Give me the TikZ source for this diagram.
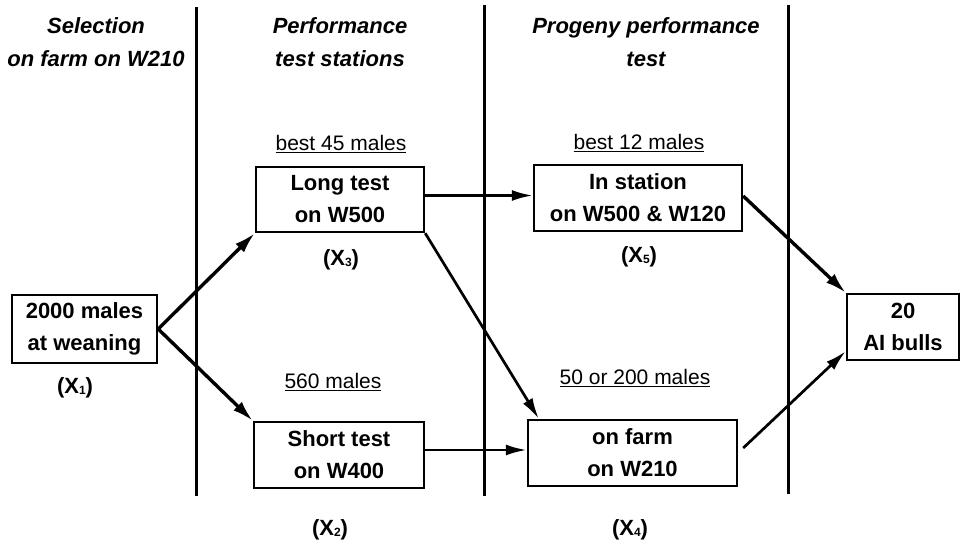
\documentclass[tikz,border=0pt]{standalone}
\usepackage{fontspec}
\setmainfont{Liberation Sans}
\usetikzlibrary{arrows.meta}
\begin{document}
\begin{tikzpicture}[x=1pt,y=-1pt,
  every node/.style={font=\fontsize{22}{32}\selectfont\bfseries},
  box/.style={draw,line width=2.4pt,align=center,inner sep=0pt},
  hdr/.style={font=\fontsize{22}{33}\selectfont\bfseries\itshape,align=center},
  cnt/.style={font=\fontsize{21}{24}\selectfont},
  divider/.style={line width=3pt},
  arr/.style={line width=2.7pt,-{Latex[length=21pt,width=11pt]}},
  thick arr/.style={line width=3.4pt,-{Latex[length=21pt,width=12pt]}}]
\useasboundingbox (0,0) rectangle (963,545);
\newcommand{\xlab}[1]{(X\raisebox{-1pt}{\fontsize{12}{12}\selectfont #1})}
% dividers
\coordinate (d1t) at (196,7);  \coordinate (d1b) at (196,496);
\coordinate (d2t) at (484,5);  \coordinate (d2b) at (484,496);
\coordinate (d3t) at (788,5);  \coordinate (d3b) at (788,494);
\draw[divider] (d1t) -- (d1b);
\draw[divider] (d2t) -- (d2b);
\draw[divider] (d3t) -- (d3b);
% headers
\node[hdr] (h1) at (96,42) {Selection\\on farm on W210};
\node[hdr] (h2) at (340,42) {Performance\\test stations};
\node[hdr] (h3) at (646,42) {Progeny performance\\test};
% boxes
\node[box,minimum width=145pt,minimum height=68pt] (b1) at (84.5,329) {2000 males\\at weaning};
\node[box,minimum width=168pt,minimum height=65pt] (lt) at (340,199.5) {Long test\\on W500};
\node[box,minimum width=208pt,minimum height=66pt] (st) at (638,198) {In station\\on W500 \& W120};
\node[box,minimum width=170pt,minimum height=66pt] (sh) at (339,455) {Short test\\on W400};
\node[box,minimum width=209pt,minimum height=66pt] (fa) at (632.5,453) {on farm\\on W210};
\node[box,minimum width=112pt,minimum height=66pt] (ai) at (903,327) {20\\AI bulls};
% counts
\node[cnt] (c1) at (341,144) {\underline{best 45 males}};
\node[cnt] (c2) at (639,143) {\underline{best 12 males}};
\node[cnt] (c3) at (333,382) {\underline{560 males}};
\node[cnt] (c4) at (635,378) {\underline{50 or 200 males}};
% X labels
\node (x1) at (75,388) {\xlab{1}};
\node (x3) at (341,260) {\xlab{3}};
\node (x5) at (639,257) {\xlab{5}};
\node (x2) at (330,530) {\xlab{2}};
\node (x4) at (630,530) {\xlab{4}};
% connectors
\draw[thick arr] (b1.east) -- (lt.south west);
\draw[thick arr] (b1.east) -- (sh.north west);
\draw[arr] ([yshift=4pt]lt.east) -- ([yshift=4pt]lt.east -| st.west);
\draw[arr] (lt.south east) -- ([xshift=12pt]fa.north west);
\draw[arr] ([yshift=5pt]sh.east) -- ([yshift=5pt]sh.east -| fa.west);
\draw[thick arr] ([yshift=2pt]st.east) -- (ai.north west);
\draw[arr] ([xshift=5pt,yshift=5pt]fa.east) -- ([yshift=10pt]ai.south west);
\end{tikzpicture}
\end{document}
